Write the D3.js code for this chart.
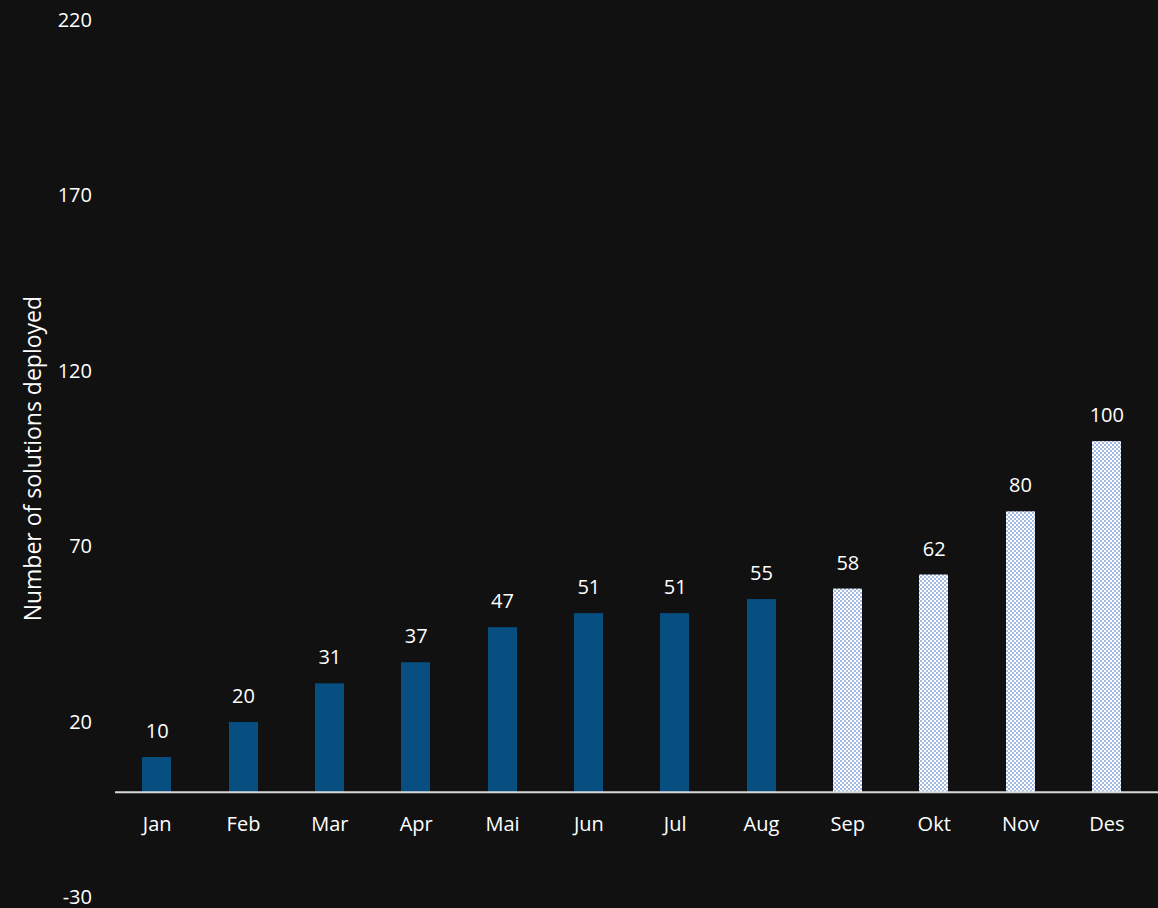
<!DOCTYPE html>
<html>
<head>
<meta charset="utf-8">
<script src="https://cdn.jsdelivr.net/npm/d3@7"></script>
<style>
  html, body { margin: 0; padding: 0; background: #111111; }
  svg { display: block; }
  text { font-family: "Open Sans", sans-serif; fill: #ffffff; }
</style>
</head>
<body>
<div id="chart"></div>
<script>
// data
var months = ["Jan", "Feb", "Mar", "Apr", "Mai", "Jun", "Jul", "Aug", "Sep", "Okt", "Nov", "Des"];
var deployed = [10, 20, 31, 37, 47, 51, 51, 55, 58, 62, 80, 100];
var isForecast = [false, false, false, false, false, false, false, false, true, true, true, true];
var yTicks = [-30, 20, 70, 120, 170, 220];
var yTitle = "Number of solutions deployed";

var W = 1158, H = 908;

var svg = d3.select("#chart").append("svg")
  .attr("width", W)
  .attr("height", H);

// checker pattern for forecast bars (Sep - Des)
var defs = svg.append("defs");
var pat = defs.append("pattern")
  .attr("id", "checker")
  .attr("patternUnits", "userSpaceOnUse")
  .attr("width", 4).attr("height", 4);
pat.append("rect").attr("width", 4).attr("height", 4).attr("fill", "#ffffff");
pat.append("rect").attr("x", 0).attr("y", 0).attr("width", 2).attr("height", 2).attr("fill", "#a3bbe3");
pat.append("rect").attr("x", 2).attr("y", 2).attr("width", 2).attr("height", 2).attr("fill", "#a3bbe3");

var x = d3.scaleBand()
  .domain(months)
  .range([114, 1150])
  .paddingInner(0.66)
  .paddingOuter(0.33);

var y = d3.scaleLinear()
  .domain([-30, 220])
  .range([897.5, 19.8]);

// y tick labels (no axis line)
var yAxis = svg.append("g")
  .attr("transform", "translate(92,0)")
  .call(d3.axisLeft(y).tickValues(yTicks).tickSize(0).tickPadding(0)
    .tickFormat(function(d) { return String(d); }));
yAxis.select(".domain").remove();
yAxis.selectAll("text")
  .attr("font-size", 20)
  .attr("font-family", "Open Sans, sans-serif")
  .attr("fill", "#ffffff");

// y title
svg.append("text")
  .attr("transform", "translate(41," + ((y(-30) + y(220)) / 2) + ") rotate(-90)")
  .attr("text-anchor", "middle")
  .attr("font-size", 23)
  .text(yTitle);

// bars
svg.append("g").selectAll("rect")
  .data(months)
  .enter()
  .append("rect")
  .attr("x", function(d) { return Math.round(x(d)); })
  .attr("width", Math.round(x.bandwidth()))
  .attr("y", function(d, i) { return y(deployed[i]); })
  .attr("height", function(d, i) { return y(0) - y(deployed[i]); })
  .attr("fill", function(d, i) { return isForecast[i] ? "url(#checker)" : "#074f80"; });

// zero line
svg.append("line")
  .attr("x1", 115).attr("x2", W)
  .attr("y1", y(0)).attr("y2", y(0))
  .attr("stroke", "#d9d9d9")
  .attr("stroke-width", 2);

// value labels
svg.append("g").selectAll("text")
  .data(months)
  .enter()
  .append("text")
  .attr("x", function(d) { return x(d) + x.bandwidth() / 2; })
  .attr("y", function(d, i) { return y(deployed[i]) - 19; })
  .attr("text-anchor", "middle")
  .attr("font-size", 20)
  .text(function(d, i) { return deployed[i]; });

// category labels
var xAxis = svg.append("g")
  .attr("transform", "translate(0," + y(0) + ")")
  .call(d3.axisBottom(x).tickSize(0).tickPadding(25));
xAxis.select(".domain").remove();
xAxis.selectAll("text")
  .attr("font-size", 20)
  .attr("font-family", "Open Sans, sans-serif")
  .attr("fill", "#ffffff");
</script>
</body>
</html>
